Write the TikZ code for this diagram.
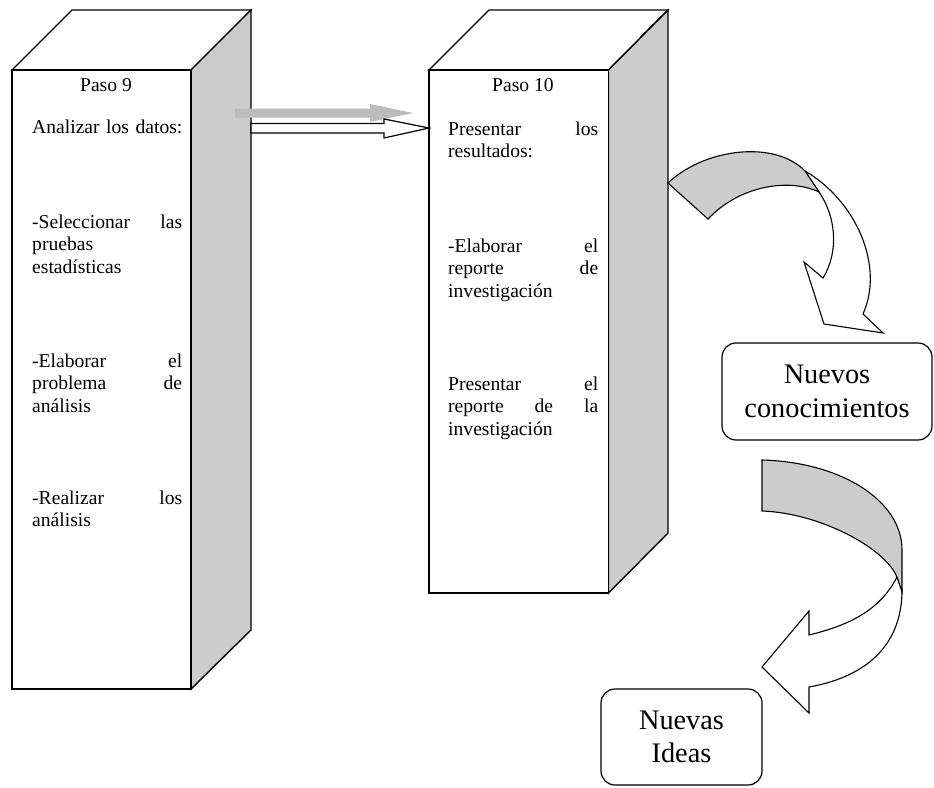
\documentclass[tikz,border=0pt]{standalone}
\usepackage{fontspec}
\setmainfont{Liberation Serif}
\usetikzlibrary{calc}
\definecolor{sidegray}{HTML}{CCCCCC}
\definecolor{arrowgray}{HTML}{BCBCBC}
\begin{document}
\begin{tikzpicture}[x=1pt,y=-1pt,line join=miter,
  face/.style={draw=black,line width=1.4pt,fill=white},
  sideface/.style={draw=black,line width=1.4pt,fill=sidegray},
  body/.style={anchor=base west,inner sep=0pt,text width=150pt,align=left,
    font=\fontsize{19.6}{22.6}\selectfont,text=black},
  steptitle/.style={anchor=base,inner sep=0pt,font=\fontsize{19.6}{22.6}\selectfont,text=black},
  bigbox/.style={draw=black,line width=1.2pt,rounded corners=14pt,fill=white,
    align=center,inner sep=0pt,font=\fontsize{28.3}{33.5}\selectfont},
  blockarrow/.style={draw=black,line width=1.2pt,fill=white},
  ribbon/.style={draw=black,line width=1.1pt,fill=sidegray},
  ribbonback/.style={draw=black,line width=1.1pt,fill=white}]

\useasboundingbox (0,0) rectangle (934,787);

% block for step 9
\draw[face] (72,10) -- (251,10) -- (191,70) -- (12,70) -- cycle;
\draw[sideface] (191,70) -- (251,10) -- (251,630) -- (191,689) -- cycle;
\draw[face] (12,70) rectangle (191,689);

% block for step 10
\draw[face] (489,10) -- (668,10) -- (608.5,70) -- (429,70) -- cycle;
\draw[sideface] (608.5,70) -- (668,10) -- (668,533) -- (608.5,593) -- cycle;
\draw[face] (429,70) rectangle (608.5,593);

\coordinate (s9) at (251,128);
\coordinate (s10) at (429,128);

% shaded arrow
\fill[arrowgray] (235,108.5) -- (370,108.5) -- (370,104) -- (413,113)
  -- (370,122) -- (370,117.5) -- (235,117.5) -- cycle;
% outlined arrow from step 9 to step 10
\draw[blockarrow] (s9) ++(0,-4.5) -- ++(133,0) -- ++(0,-4.5) -- (s10)
  -- ++(-45,10) -- ++(0,-5) -- ($(s9)+(0,5)$) -- cycle;

% curved arrow towards the knowledge box
\draw[ribbonback] (805,171) .. controls (855,200) and (885,265) .. (863,314)
  -- (883,333) -- (824,324) -- (804,262) -- (823,278)
  .. controls (840,250) and (835,215) .. (819,192) -- cycle;
\draw[ribbon] (668,183) .. controls (705,148) and (775,140) .. (805,171)
  -- (819,192) .. controls (790,178) and (740,185) .. (708,219) -- cycle;

% curved arrow towards the ideas box
\draw[ribbonback] (902,590) .. controls (902,650) and (860,678) .. (809,687)
  -- (809,713) -- (762,667) -- (809,611) -- (809,635)
  .. controls (850,625) and (880,610) .. (897,577) -- cycle;
\draw[ribbon] (762,460) .. controls (840,462) and (902,500) .. (902,550)
  -- (902,592) -- (897,577) .. controls (885,548) and (820,513) .. (762,511) -- cycle;

% texts of step 9
\node[steptitle] (p9) at (106,91) {Paso 9};
\node[body,text width=170pt] (a9) at (32,133) {Analizar los datos:};
\node[body] (b9) at (32,228) {-Seleccionar\hfill las\\pruebas\\estadísticas};
\node[body] (c9) at (32,367) {-Elaborar\hfill el\\problema\hfill de\\análisis};
\node[body] (d9) at (32,504) {-Realizar\hfill los\\análisis};

% texts of step 10
\node[steptitle] (p10) at (523,91) {Paso 10};
\node[body] (a10) at (448,135) {Presentar\hfill los\\resultados:};
\node[body] (b10) at (448,252) {-Elaborar\hfill el\\reporte\hfill de\\investigación};
\node[body] (c10) at (448,390) {Presentar\hfill el\\reporte\hfill de\hfill la\\investigación};

% result boxes
\node[bigbox,minimum width=210pt,minimum height=97pt] (nc) at (827,391.5) {Nuevos\\conocimientos};
\node[bigbox,minimum width=161pt,minimum height=96pt] (ni) at (681.5,737) {Nuevas\\Ideas};
\end{tikzpicture}
\end{document}
